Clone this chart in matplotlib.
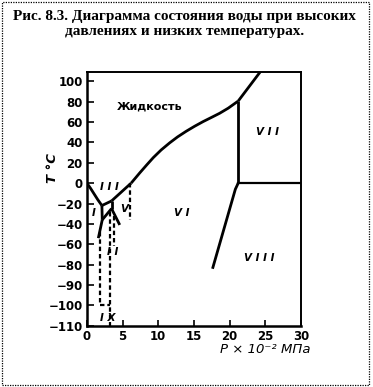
import numpy as np
import matplotlib
matplotlib.use("Agg")
import matplotlib.pyplot as plt
from matplotlib.patches import Rectangle

# ---- data ----
title_text = "Рис. 8.3. Диаграмма состояния воды при высоких\nдавлениях и низких температурах."
x_ticks = [0, 5, 10, 15, 20, 25, 30]
y_ticks = [100, 80, 60, 40, 20, 0, -20, -40, -60, -80, -90, -100, -110]
y_tick_labels = ["100", "80", "60", "40", "20", "0", "\u221220", "\u221240", "\u221260",
                 "\u221280", "\u221290", "\u2212100", "\u2212110"]

liqVI_P = [6.2, 7.4, 8.4, 9.3, 10.4, 11.6, 12.7, 13.9, 15.1, 16.3, 17.5, 18.6, 19.8, 21.2]
liqVI_T = [0, 10, 18, 25, 32.5, 39.5, 45.3, 50.8, 55.8, 60.4, 64.6, 68.5, 73.5, 80.5]
liqVII_P = [21.2, 24.6]
liqVII_T = [80.5, 112]
VI_VII_P = [21.2, 21.2]
VI_VII_T = [80.5, 0]
VII_VIII_P = [21.2, 30]
VII_VIII_T = [0, 0]
VI_VIII_P = [21.2, 20.8, 17.6]
VI_VIII_T = [0, -6, -82]
Iliq_P = [0, 0.5, 1.0, 1.5, 2.1]
Iliq_T = [0, -5, -10.5, -16, -22]
IIIliq_P = [2.1, 3.45]
IIIliq_T = [-22, -17.5]
Vliq_P = [3.45, 6.2]
Vliq_T = [-17.5, 0]
I_III_P = [2.1, 2.15]
I_III_T = [-22, -36]
I_II_P = [2.15, 1.6]
I_II_T = [-36, -54]
II_III_P = [2.15, 3.45]
II_III_T = [-36, -25]
III_V_P = [3.45, 3.45]
III_V_T = [-25, -17.5]
II_V_P = [3.45, 4.6]
II_V_T = [-25, -41]

dash1_P = [1.9, 1.9]
dash1_T = [-48, -100]
dash2_P = [3.3, 3.3]
dash2_T = [-28, -110]
dash3_P = [3.75, 3.75]
dash3_T = [-32, -62]
dash4_P = [1.9, 3.3]
dash4_T = [-100, -100]
dash5_P = [6.1, 6.1]
dash5_T = [0, -36]

labels = [("Жидкость", 8.8, 75, "normal", "bold", 8),
          ("I I I", 3.1, -4, "italic", "bold", 7.5),
          ("I", 0.9, -29, "italic", "bold", 7.5),
          ("V", 5.2, -25, "italic", "bold", 7.5),
          ("V I", 13.3, -29, "italic", "bold", 7.5),
          ("I I", 3.6, -68, "italic", "bold", 7.5),
          ("I X", 2.9, -106, "italic", "bold", 7.5),
          ("V I I", 25.3, 50, "italic", "bold", 7.5),
          ("V I I I", 24.2, -73, "italic", "bold", 7.5)]


def fwd(t):
    t = np.asarray(t, dtype=float)
    return np.where(t >= -80, t / 20.0, -4 + (t + 80) / 10.0)


def inv(p):
    p = np.asarray(p, dtype=float)
    return np.where(p >= -4, p * 20.0, (p + 4) * 10.0 - 80)


fig = plt.figure(figsize=(3.73, 3.87), dpi=100)
fig.patch.set_facecolor("white")
ax = fig.add_axes([0.233, 0.158, 0.574, 0.656])
ax.set_yscale("function", functions=(fwd, inv))
ax.set_xlim(0, 30)
ax.set_ylim(-110, 109)

lw = 2.0
solid = [(liqVI_P, liqVI_T), (liqVII_P, liqVII_T), (VI_VII_P, VI_VII_T),
         (VI_VIII_P, VI_VIII_T), (Iliq_P, Iliq_T),
         (IIIliq_P, IIIliq_T), (Vliq_P, Vliq_T), (I_III_P, I_III_T),
         (I_II_P, I_II_T), (II_III_P, II_III_T), (III_V_P, III_V_T), (II_V_P, II_V_T)]
for P, T in solid:
    ax.plot(P, T, color="black", lw=lw, solid_capstyle="butt", solid_joinstyle="round")
ax.plot(VII_VIII_P, VII_VIII_T, color="black", lw=1.6)

for P, T in [(dash1_P, dash1_T), (dash2_P, dash2_T), (dash3_P, dash3_T),
             (dash4_P, dash4_T), (dash5_P, dash5_T)]:
    ax.plot(P, T, color="black", lw=1.6, linestyle=(0, (2.0, 1.3)))

for txt, x, y, st, wt, fs in labels:
    ax.text(x, y, txt, ha="center", va="center", fontsize=fs, style=st,
            fontweight=wt, family="DejaVu Sans")

ax.set_xticks(x_ticks)
ax.set_xticklabels([str(v) for v in x_ticks], fontsize=8.5, fontweight="bold")
ax.set_yticks(y_ticks)
ax.set_yticklabels(y_tick_labels, fontsize=8.5, fontweight="bold")
ax.minorticks_off()
ax.tick_params(axis="x", direction="in", length=4, width=1.2, pad=3)
ax.tick_params(axis="y", direction="in", length=5, width=1.2, pad=3)

for side in ["left", "bottom"]:
    ax.spines[side].set_linewidth(1.8)
for side in ["top", "right"]:
    ax.spines[side].set_linewidth(1.4)

fig.text(0.14, 0.565, "T °C", rotation=90, ha="center", va="center",
         fontsize=9.5, style="italic", fontweight="bold")
fig.text(0.832, 0.097, "P \u00d7 10\u207b\u00b2 МПа", ha="right", va="center",
         fontsize=9.5, style="italic")

fig.text(0.494, 0.975, title_text, ha="center", va="top", fontsize=11,
         fontweight="bold", family="Liberation Serif", linespacing=1.2)

fig.patches.append(Rectangle((0.006, 0.006), 0.984, 0.988, transform=fig.transFigure,
                             fill=False, edgecolor="black", lw=0.9, linestyle=(0, (1, 1))))

fig.savefig("out.png", dpi=100, facecolor="white")
